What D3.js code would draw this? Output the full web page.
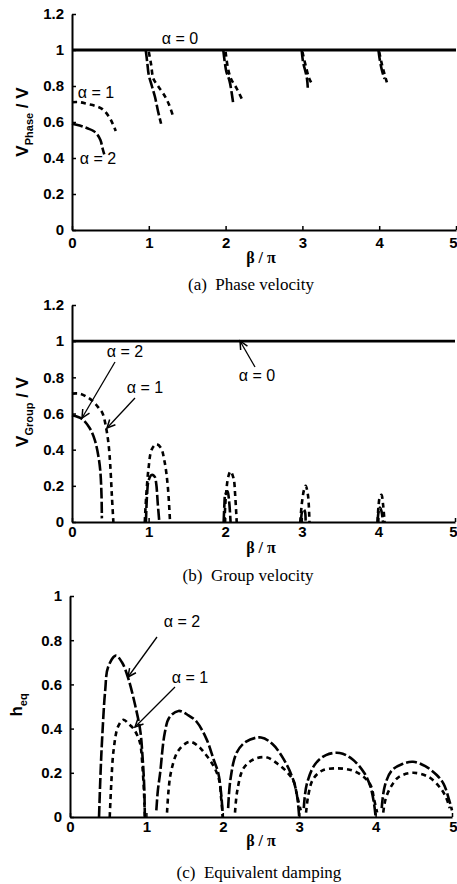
<!DOCTYPE html>
<html><head><meta charset="utf-8">
<script src="https://cdn.jsdelivr.net/npm/d3@7"></script>
<style>
body{margin:0;background:#fff;}
svg{display:block;}
.tick text{font-family:"Liberation Sans",Arial,sans-serif;font-size:15px;font-weight:bold;fill:#000;}
</style></head><body>
<svg id="c" width="457" height="884"></svg>
<script>
// ---- data ----
const xTicks = [0, 1, 2, 3, 4, 5];
const yTicksVel = [0, 0.2, 0.4, 0.6, 0.8, 1, 1.2];
const yTicksDamp = [0, 0.2, 0.4, 0.6, 0.8, 1];

const alpha0 = [[0, 1], [5, 1]];

const phaseA1 = [
  [[0,0.71],[0.1,0.71],[0.2,0.70],[0.3,0.69],[0.4,0.67],[0.48,0.63],[0.53,0.59],[0.57,0.55]],
  [[1.0,0.99],[1.03,0.92],[1.06,0.84],[1.12,0.80],[1.2,0.75],[1.26,0.70],[1.31,0.64]],
  [[2.0,0.99],[2.03,0.90],[2.07,0.84],[2.14,0.79],[2.21,0.73]],
  [[3.0,0.99],[3.05,0.90],[3.09,0.84],[3.14,0.80]],
  [[4.0,0.99],[4.03,0.93],[4.06,0.88],[4.1,0.82]]
];
const phaseA2 = [
  [[0,0.59],[0.1,0.58],[0.2,0.565],[0.28,0.55],[0.33,0.53],[0.37,0.50],[0.40,0.45],[0.42,0.42]],
  [[0.96,1.0],[0.98,0.93],[1.0,0.86],[1.04,0.80],[1.08,0.74],[1.12,0.66],[1.16,0.59]],
  [[1.97,1.0],[1.99,0.93],[2.01,0.88],[2.05,0.83],[2.08,0.76],[2.1,0.70]],
  [[2.99,1.0],[3.01,0.93],[3.04,0.88],[3.06,0.84],[3.07,0.79]],
  [[3.99,1.0],[4.01,0.94],[4.04,0.88],[4.07,0.84]]
];

const groupA1 = [
  [[0,0.71],[0.1,0.71],[0.2,0.69],[0.28,0.665],[0.35,0.63],[0.4,0.6],[0.45,0.51],[0.48,0.42],[0.5,0.31],[0.52,0.15],[0.54,0]],
  [[0.95,0],[0.97,0.15],[1.0,0.3],[1.04,0.4],[1.1,0.43],[1.16,0.41],[1.21,0.33],[1.25,0.2],[1.28,0]],
  [[1.99,0],[2.01,0.15],[2.04,0.25],[2.07,0.28],[2.11,0.24],[2.13,0.15],[2.15,0]],
  [[2.98,0],[3.0,0.1],[3.03,0.18],[3.05,0.2],[3.08,0.15],[3.1,0]],
  [[3.99,0],[4.0,0.08],[4.02,0.14],[4.04,0.15],[4.06,0.1],[4.08,0]]
];
const groupA2 = [
  [[0,0.59],[0.13,0.57],[0.23,0.52],[0.3,0.45],[0.35,0.35],[0.37,0.28],[0.385,0.15],[0.39,0.02]],
  [[0.965,0],[0.98,0.15],[1.0,0.23],[1.04,0.26],[1.08,0.25],[1.1,0.21],[1.12,0.1],[1.14,0]],
  [[1.98,0],[1.99,0.1],[2.0,0.15],[2.03,0.17],[2.05,0.12],[2.07,0]],
  [[2.99,0],[3.0,0.05],[3.02,0.07],[3.04,0.06],[3.05,0]],
  [[3.99,0],[4.0,0.05],[4.02,0.08],[4.04,0.06],[4.06,0]]
];

const dampA2 = [
  [[0.38,0],[0.40,0.2],[0.42,0.35],[0.46,0.57],[0.5,0.68],[0.6,0.73],[0.68,0.70],[0.76,0.63],[0.85,0.51],[0.92,0.39],[0.95,0.27],[0.97,0.15],[0.98,0]],
  [[1.13,0.03],[1.15,0.12],[1.18,0.2],[1.24,0.38],[1.3,0.45],[1.42,0.48],[1.55,0.46],[1.66,0.43],[1.79,0.35],[1.88,0.26],[1.94,0.2],[1.98,0.1],[2.0,0]],
  [[2.07,0.04],[2.1,0.17],[2.18,0.29],[2.3,0.34],[2.5,0.36],[2.65,0.33],[2.8,0.26],[2.92,0.17],[2.97,0.1],[3.0,0]],
  [[3.06,0.04],[3.1,0.15],[3.21,0.24],[3.35,0.28],[3.53,0.29],[3.7,0.26],[3.85,0.2],[3.93,0.14],[3.98,0.06],[4.0,0]],
  [[4.08,0.04],[4.12,0.14],[4.21,0.21],[4.35,0.24],[4.49,0.25],[4.65,0.23],[4.8,0.19],[4.89,0.15],[4.96,0.08],[5.0,0.03]]
];
const dampA1 = [
  [[0.52,0],[0.54,0.15],[0.57,0.30],[0.63,0.41],[0.70,0.44],[0.77,0.42],[0.83,0.40],[0.88,0.37],[0.92,0.33],[0.95,0.22],[0.97,0.1],[0.98,0]],
  [[1.27,0.02],[1.29,0.12],[1.32,0.2],[1.40,0.29],[1.5,0.33],[1.58,0.34],[1.68,0.32],[1.76,0.29],[1.88,0.23],[1.95,0.17],[1.98,0.08],[2.0,0]],
  [[2.16,0.02],[2.19,0.12],[2.27,0.22],[2.4,0.26],[2.57,0.27],[2.72,0.24],[2.85,0.2],[2.93,0.16],[2.97,0.1],[3.02,0.03]],
  [[3.09,0.02],[3.12,0.1],[3.18,0.17],[3.3,0.21],[3.5,0.22],[3.7,0.21],[3.85,0.18],[3.94,0.14],[3.98,0.08],[4.02,0.02]],
  [[4.10,0.02],[4.13,0.08],[4.19,0.13],[4.3,0.18],[4.49,0.20],[4.7,0.18],[4.85,0.13],[4.92,0.09],[4.97,0.04]]
];

// ---- drawing ----
const svg = d3.select("#c");
const fmt = d => d === 0 ? "0" : (d === 1 ? "1" : d3.format(".1f")(d));

const panels = [
  {x0:72, x1:456, yTop:14, yBot:230, ymax:1.2, yt:yTicksVel, title:"(a)  Phase velocity", titleX:251, titleY:290, xlabY:263, xpad:7,
   ylab:["V","Phase","/ V"], ylabX:28, ylabY:122,
   series:[{d:[alpha0], dash:null, w:2.8},{d:phaseA1, dash:"5,4", w:2.6},{d:phaseA2, dash:"11,3", w:2.6}]},
  {x0:72, x1:455, yTop:305, yBot:522, ymax:1.2, yt:yTicksVel, title:"(b)  Group velocity", titleX:248, titleY:581, xlabY:553, xpad:4,
   ylab:["V","Group","/ V"], ylabX:28, ylabY:412,
   series:[{d:[alpha0], dash:null, w:2.8},{d:groupA1, dash:"5,4", w:2.6},{d:groupA2, dash:"11,3", w:2.6}]},
  {x0:70, x1:452, yTop:596, yBot:817, ymax:1, yt:yTicksDamp, title:"(c)  Equivalent damping", titleX:259, titleY:878, xlabY:846, xpad:4,
   ylab:["h","eq",""], ylabX:22, ylabY:705,
   series:[{d:dampA1, dash:"5,4", w:2.6},{d:dampA2, dash:"11,3", w:2.6}]}
];

panels.forEach(p => {
  const x = d3.scaleLinear().domain([0,5]).range([p.x0, p.x1]);
  const y = d3.scaleLinear().domain([0,p.ymax]).range([p.yBot, p.yTop]);
  const g = svg.append("g");
  const ax = g.append("g").attr("transform",`translate(0,${p.yBot})`)
    .call(d3.axisBottom(x).tickValues(xTicks).tickFormat(d3.format("d")).tickSize(-4).tickSizeOuter(0).tickPadding(p.xpad));
  const ay = g.append("g").attr("transform",`translate(${p.x0},0)`)
    .call(d3.axisLeft(y).tickValues(p.yt).tickFormat(fmt).tickSize(-4).tickSizeOuter(0).tickPadding(8));
  [ax, ay].forEach(a => {
    a.select(".domain").attr("stroke","#000").attr("stroke-width",2);
    a.selectAll(".tick line").attr("stroke","#000").attr("stroke-width",1.5);
  });
  // keep the last x label inside the page edge
  ax.selectAll(".tick text").filter(d => d === 5).attr("text-anchor","end").attr("x", 457 - x(5));
  const line = d3.line().x(d=>x(d[0])).y(d=>y(d[1])).curve(d3.curveCatmullRom.alpha(0.5));
  p.series.forEach(s => {
    s.d.forEach(seg => {
      g.append("path").attr("d", line(seg)).attr("fill","none").attr("stroke","#000")
        .attr("stroke-width", s.w).attr("stroke-dasharray", s.dash).attr("stroke-linecap","butt");
    });
  });
  // x label
  g.append("text").attr("x", 261).attr("y", p.xlabY).attr("text-anchor","middle")
    .style("font-family","'Liberation Serif','Times New Roman',serif").style("font-size","16px").style("font-weight","bold").text("β / π");
  // title
  g.append("text").attr("x", p.titleX).attr("y", p.titleY).attr("text-anchor","middle").attr("xml:space","preserve")
    .style("white-space","pre")
    .style("font-family","'Liberation Serif','Times New Roman',serif").style("font-size","17px").text(p.title);
  // y label
  const yl = g.append("text").attr("transform",`translate(${p.ylabX},${p.ylabY}) rotate(-90)`)
    .attr("text-anchor","middle").style("font-family","'Liberation Sans',Arial,sans-serif").style("font-size","17px").style("font-weight","bold");
  yl.append("tspan").text(p.ylab[0]);
  yl.append("tspan").attr("dy",5).style("font-size","11px").text(p.ylab[1]);
  if (p.ylab[2]) yl.append("tspan").attr("dy",-5).text(" " + p.ylab[2]);
});

// annotations
const lab = (txt, cx, cy) => svg.append("text").attr("x",cx).attr("y",cy).attr("text-anchor","middle")
  .attr("dominant-baseline","middle")
  .style("font-family","'Liberation Sans',Arial,sans-serif").style("font-size","16px").text(txt);
const arrow = (x1,y1,x2,y2) => {
  svg.append("line").attr("x1",x1).attr("y1",y1).attr("x2",x2).attr("y2",y2).attr("stroke","#000").attr("stroke-width",1.3);
  const a = Math.atan2(y2-y1, x2-x1), L = 9, w = 0.45;
  const p1 = [x2 - L*Math.cos(a-w), y2 - L*Math.sin(a-w)];
  const p2 = [x2 - L*Math.cos(a+w), y2 - L*Math.sin(a+w)];
  svg.append("path").attr("d",`M${p1[0]},${p1[1]}L${x2},${y2}L${p2[0]},${p2[1]}`).attr("fill","none").attr("stroke","#000").attr("stroke-width",1.5);
};
lab("α = 0", 180, 40);
lab("α = 1", 96, 94);
lab("α = 2", 98, 160);

lab("α = 2", 125, 353);
arrow(115, 362, 82, 418);
lab("α = 1", 145, 389);
arrow(135, 398, 107, 428);
lab("α = 0", 257, 377);
arrow(255, 367, 240, 341);

lab("α = 2", 182, 623);
arrow(157, 637, 128, 677);
lab("α = 1", 190, 679);
arrow(175, 687, 135, 727);
</script></body></html>
